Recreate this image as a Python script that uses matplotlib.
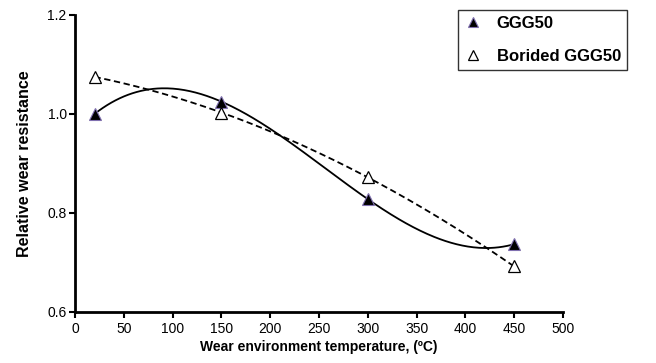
import numpy as np
import matplotlib.pyplot as plt

plt.rcParams['font.family'] = ['Liberation Sans', 'DejaVu Sans']

# dados
temperatura = [20, 150, 300, 450]
ggg50 = [1.000, 1.025, 0.828, 0.737]
ggg50_borado = [1.075, 1.003, 0.872, 0.692]
xticks = [0, 50, 100, 150, 200, 250, 300, 350, 400, 450, 500]
yticks = [0.6, 0.8, 1.0, 1.2]

# linhas de tendência polinomiais (como no Excel)
xs = np.linspace(min(temperatura), max(temperatura), 300)
p1 = np.polyfit(temperatura, ggg50, 3)
p2 = np.polyfit(temperatura, ggg50_borado, 3)

fig = plt.figure(figsize=(6.56, 3.63), dpi=100)
ax = fig.add_axes([0.1143, 0.1405, 0.7439, 0.8182])

ax.plot(xs, np.polyval(p1, xs), color='black', lw=1.3, zorder=2)
ax.plot(xs, np.polyval(p2, xs), color='black', lw=1.3, ls=(0, (3.5, 2)), zorder=2)
ax.plot(temperatura, ggg50, ls='none', marker='^', ms=9, mfc='black',
        mec='#8070b0', mew=0.8, label='GGG50', zorder=3)
ax.plot(temperatura, ggg50_borado, ls='none', marker='^', ms=9, mfc='white',
        mec='black', mew=0.9, label='Borided GGG50', zorder=3)

ax.set_xlim(0, 500)
ax.set_ylim(0.6, 1.2)
ax.set_xticks(xticks)
ax.set_yticks(yticks)
ax.set_yticklabels(['0.6', '0.8', '1.0', '1.2'])
ax.tick_params(direction='out', length=4, width=1.5, labelsize=10, colors='black')
ax.tick_params(axis='y', pad=2)
ax.tick_params(axis='x', pad=3)
for s in ['top', 'right']:
    ax.spines[s].set_visible(False)
for s in ['left', 'bottom']:
    ax.spines[s].set_linewidth(2)

ax.set_xlabel('Wear environment temperature, (ºC)', fontsize=10, fontweight='bold', labelpad=3)
ax.set_ylabel('Relative wear resistance', fontsize=11.5, fontweight='bold', labelpad=11)

leg = ax.legend(loc='upper right', bbox_to_anchor=(1.131, 1.017), borderaxespad=0,
                frameon=True, fancybox=False, edgecolor='black', borderpad=0.35,
                labelspacing=1.1, handletextpad=0.8, handlelength=1.2,
                prop={'weight': 'bold', 'size': 12}, markerscale=0.75)
leg.get_frame().set_linewidth(1)

fig.savefig('out.png', dpi=100)
